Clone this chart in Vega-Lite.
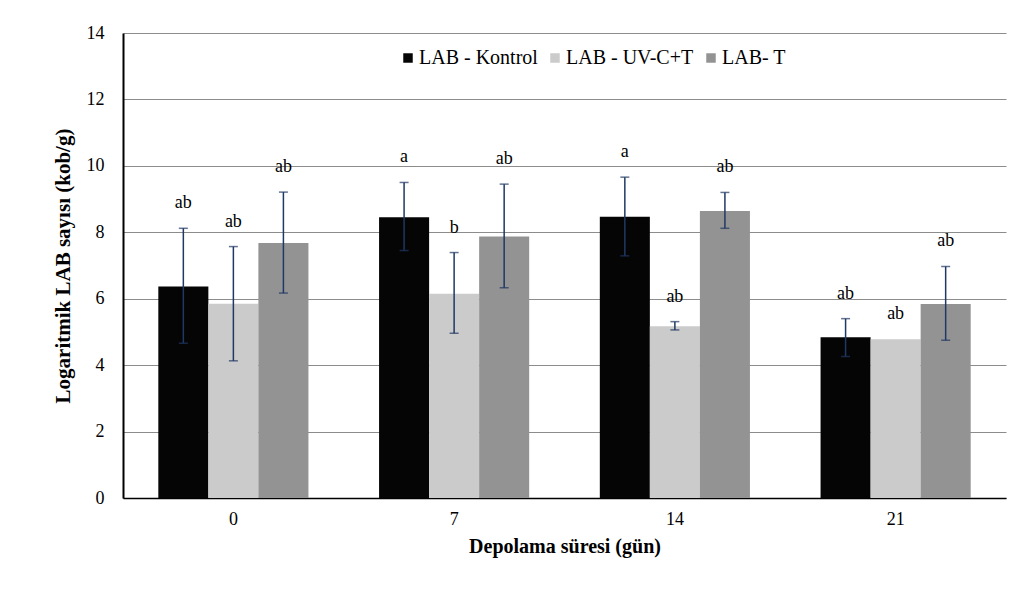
{
  "$schema": "https://vega.github.io/schema/vega-lite/v6.json",
  "autosize": {"type": "none"},
  "width": 883,
  "height": 465,
  "padding": {"left": 123, "top": 33, "right": 30, "bottom": 103},
  "background": "white",
  "config": {
    "font": "Liberation Serif",
    "view": {"stroke": null},
    "axis": {"labelFont": "Liberation Serif", "titleFont": "Liberation Serif"},
    "legend": {"labelFont": "Liberation Serif", "titleFont": "Liberation Serif"},
    "text": {"font": "Liberation Serif"}
  },
  "data": {
    "values": [
      {"day": "0", "series": "LAB - Kontrol", "mean": 6.37, "lower": 4.66, "upper": 8.12, "label": "ab"},
      {"day": "0", "series": "LAB - UV-C+T", "mean": 5.85, "lower": 4.13, "upper": 7.57, "label": "ab"},
      {"day": "0", "series": "LAB- T", "mean": 7.68, "lower": 6.17, "upper": 9.21, "label": "ab"},
      {"day": "7", "series": "LAB - Kontrol", "mean": 8.45, "lower": 7.45, "upper": 9.5, "label": "a"},
      {"day": "7", "series": "LAB - UV-C+T", "mean": 6.15, "lower": 4.96, "upper": 7.39, "label": "b"},
      {"day": "7", "series": "LAB- T", "mean": 7.87, "lower": 6.33, "upper": 9.45, "label": "ab"},
      {"day": "14", "series": "LAB - Kontrol", "mean": 8.47, "lower": 7.29, "upper": 9.66, "label": "a"},
      {"day": "14", "series": "LAB - UV-C+T", "mean": 5.17, "lower": 5.06, "upper": 5.31, "label": "ab"},
      {"day": "14", "series": "LAB- T", "mean": 8.64, "lower": 8.12, "upper": 9.2, "label": "ab"},
      {"day": "21", "series": "LAB - Kontrol", "mean": 4.84, "lower": 4.26, "upper": 5.4, "label": "ab"},
      {"day": "21", "series": "LAB - UV-C+T", "mean": 4.78, "lower": 4.78, "upper": 4.78, "label": "ab"},
      {"day": "21", "series": "LAB- T", "mean": 5.84, "lower": 4.75, "upper": 6.97, "label": "ab"}
    ]
  },
  "encoding": {
    "x": {
      "field": "day", "type": "nominal", "sort": ["0", "7", "14", "21"],
      "scale": {"paddingInner": 0.32, "paddingOuter": 0.16},
      "axis": {
        "title": "Depolama süresi (gün)", "labelAngle": 0, "labelFontSize": 18, "labelColor": "#000",
        "labelFont": "Liberation Serif", "titleFont": "Liberation Serif",
        "labelPadding": 12, "ticks": false, "domainColor": "#000", "domainWidth": 1.5,
        "titleFontSize": 20, "titleFontWeight": "bold", "titleColor": "#000", "titlePadding": 8
      }
    },
    "xOffset": {
      "field": "series", "type": "nominal",
      "sort": ["LAB - Kontrol", "LAB - UV-C+T", "LAB- T"],
      "scale": {"paddingInner": 0, "paddingOuter": 0}
    }
  },
  "layer": [
    {
      "mark": {"type": "bar"},
      "encoding": {
        "y": {
          "field": "mean", "type": "quantitative",
          "scale": {"domain": [0, 14], "nice": false},
          "axis": {
            "title": "Logaritmik LAB sayısı (kob/g)", "values": [0, 2, 4, 6, 8, 10, 12, 14],
            "labelFont": "Liberation Serif", "titleFont": "Liberation Serif",
            "labelFontSize": 18, "labelColor": "#000", "labelPadding": 19, "ticks": false,
            "domainColor": "#000", "domainWidth": 2,
            "grid": true, "gridColor": "#8c8c8c", "gridWidth": 1,
            "titleFontSize": 21, "titleFontWeight": "bold", "titleColor": "#000", "titlePadding": 13
          }
        },
        "color": {
          "field": "series", "type": "nominal",
          "sort": ["LAB - Kontrol", "LAB - UV-C+T", "LAB- T"],
          "scale": {"domain": ["LAB - Kontrol", "LAB - UV-C+T", "LAB- T"], "range": ["#050505", "#cbcbcb", "#939393"]},
          "legend": {
            "title": null, "orient": "none", "direction": "horizontal",
            "legendX": 275, "legendY": 15,
            "symbolType": "square", "symbolSize": 90, "symbolStrokeWidth": 0,
            "labelFontSize": 20, "labelColor": "#000", "labelFont": "Liberation Serif",
            "columnPadding": 7, "labelOffset": 1
          }
        }
      }
    },
    {
      "transform": [{"filter": "datum.upper > datum.lower"}],
      "mark": {"type": "rule", "color": "#1f3864", "strokeWidth": 1.5},
      "encoding": {
        "y": {"field": "lower", "type": "quantitative"},
        "y2": {"field": "upper"}
      }
    },
    {
      "transform": [{"filter": "datum.upper > datum.lower"}],
      "mark": {"type": "tick", "color": "#1f3864", "thickness": 1.5, "size": 9, "orient": "horizontal"},
      "encoding": {
        "y": {"field": "upper", "type": "quantitative"}
      }
    },
    {
      "transform": [{"filter": "datum.upper > datum.lower"}],
      "mark": {"type": "tick", "color": "#1f3864", "thickness": 1.5, "size": 9, "orient": "horizontal"},
      "encoding": {
        "y": {"field": "lower", "type": "quantitative"}
      }
    },
    {
      "mark": {"type": "text", "fontSize": 18, "font": "Liberation Serif", "color": "#000", "baseline": "middle", "dy": -25},
      "encoding": {
        "y": {"field": "upper", "type": "quantitative"},
        "text": {"field": "label"}
      }
    }
  ]
}
